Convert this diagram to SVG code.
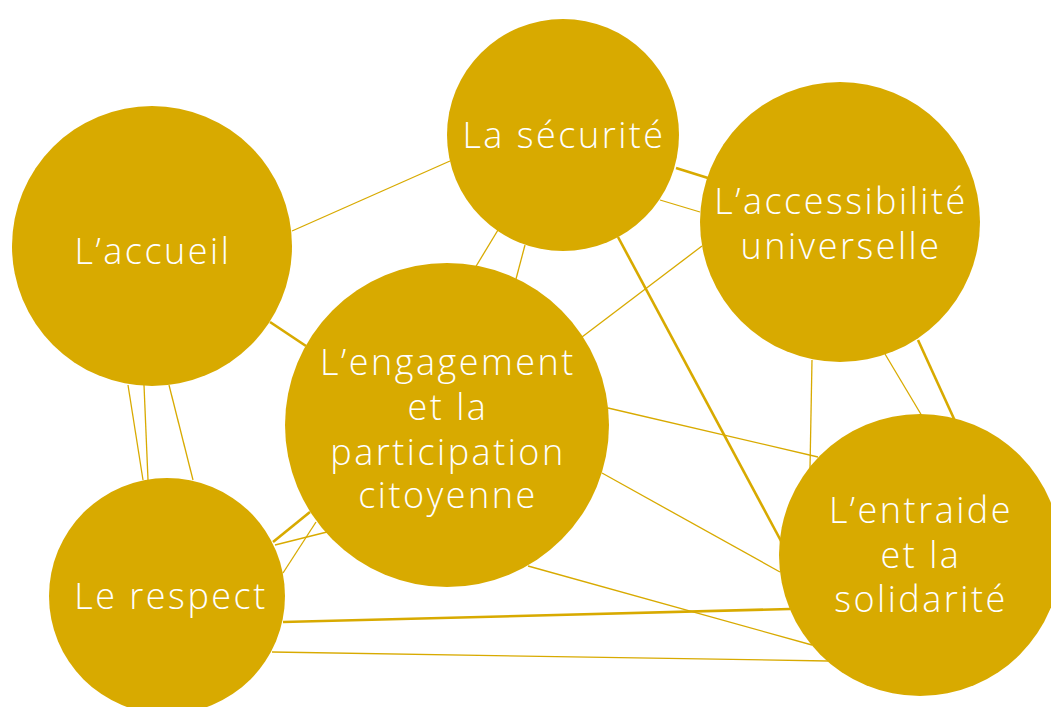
<svg xmlns="http://www.w3.org/2000/svg" width="1051" height="707" viewBox="0 0 1051 707">
<style>
.c{fill:#D8AA00}
.t{fill:#fff;font-family:"Open Sans","Liberation Sans",sans-serif;font-weight:300;font-size:36px;letter-spacing:2.5px;text-anchor:middle}
#connectors line{stroke:#D8AA00;stroke-width:1.3;fill:none}
#connectors line.k{stroke-width:2.6}
</style>
<rect width="1051" height="707" fill="#fff"/>
<g id="connectors">
<line x1="292" y1="231" x2="450" y2="161"/>
<line class="k" x1="270" y1="322" x2="306" y2="346"/>
<line x1="498" y1="230" x2="475" y2="268"/>
<line x1="525" y1="245" x2="516" y2="279"/>
<line class="k" x1="676" y1="168" x2="708" y2="178"/>
<line x1="660" y1="200" x2="700" y2="212"/>
<line class="k" x1="618" y1="237" x2="781" y2="541"/>
<line x1="702" y1="246" x2="582" y2="337"/>
<line x1="812" y1="360" x2="810" y2="468"/>
<line x1="885" y1="354" x2="922" y2="416"/>
<line class="k" x1="918" y1="340" x2="955" y2="421"/>
<line x1="608" y1="408" x2="818" y2="457"/>
<line x1="602" y1="473" x2="780" y2="572"/>
<line x1="528" y1="566" x2="812" y2="645"/>
<line class="k" x1="283" y1="622" x2="790" y2="609"/>
<line x1="272" y1="652" x2="828" y2="661"/>
<line x1="128" y1="385" x2="143" y2="480"/>
<line x1="144" y1="385" x2="148" y2="480"/>
<line x1="169" y1="385" x2="193" y2="480"/>
<line class="k" x1="273" y1="542" x2="310" y2="512"/>
<line x1="275" y1="545" x2="327" y2="532"/>
<line x1="283" y1="573" x2="316" y2="522"/>
</g>
<g id="accueil"><circle class="c" cx="152" cy="246" r="140"/><text class="t" x="153" y="264">L’accueil</text></g>
<g id="securite"><circle class="c" cx="563" cy="135" r="116"/><text class="t" x="564" y="148">La sécurité</text></g>
<g id="accessibilite"><circle class="c" cx="840" cy="222" r="140"/><text class="t" x="841" y="214">L’accessibilité</text><text class="t" x="841" y="259">universelle</text></g>
<g id="engagement"><circle class="c" cx="447" cy="425" r="162"/><text class="t" x="448" y="375">L’engagement</text><text class="t" x="448" y="420">et la</text><text class="t" x="448" y="465">participation</text><text class="t" x="448" y="508">citoyenne</text></g>
<g id="respect"><circle class="c" cx="167" cy="596" r="118"/><text class="t" x="171" y="609">Le respect</text></g>
<g id="entraide"><circle class="c" cx="920" cy="555" r="141"/><text class="t" x="921" y="523">L’entraide</text><text class="t" x="921" y="568">et la</text><text class="t" x="921" y="612">solidarité</text></g>
</svg>
